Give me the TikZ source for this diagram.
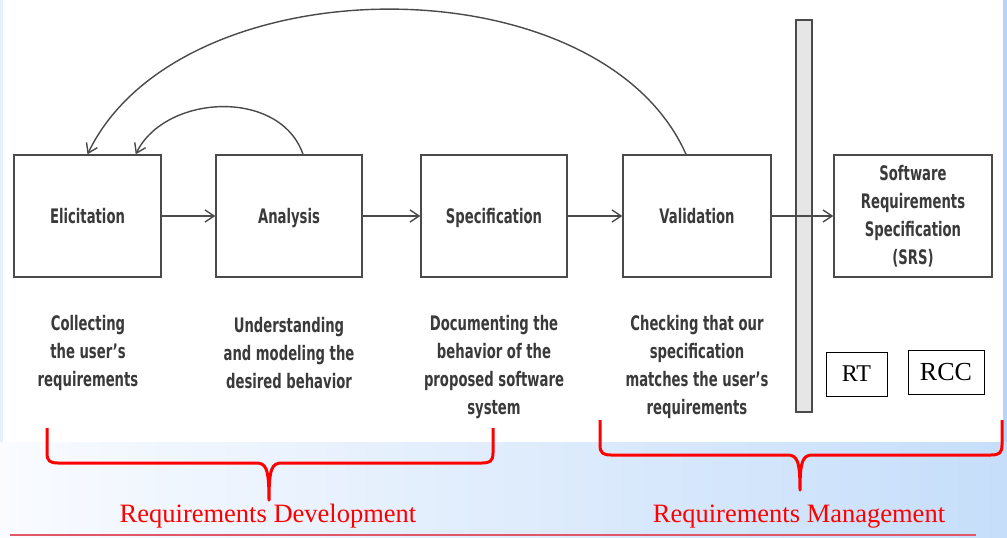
\documentclass[tikz,border=0pt]{standalone}
\usepackage{fontspec}
\setmainfont{Liberation Serif}
\newfontfamily\hand[FakeStretch=0.66]{DejaVu Sans}
\usetikzlibrary{arrows.meta}
\definecolor{ink}{HTML}{4A4A4A}
\definecolor{txt}{HTML}{3A3A3A}
\definecolor{barfill}{HTML}{E6E6E6}
\definecolor{edgeblue}{HTML}{E6F0FC}
\definecolor{rightblue}{HTML}{B4D5F8}
\definecolor{bgleft}{HTML}{F9FBFF}
\definecolor{bgright}{HTML}{C6DEFA}
\definecolor{redline}{HTML}{E05868}
\tikzset{
  procbox/.style={draw=ink, line width=1.4pt, minimum height=122pt, inner sep=0pt,
    font=\hand\bfseries\fontsize{20}{28}\selectfont, text=txt, align=center},
  oneline/.style={text height=14pt, text depth=0pt},
  lab/.style={font=\hand\bfseries\fontsize{20}{28}\selectfont, text=txt, align=center, inner sep=0pt},
  arr/.style={draw=ink, line width=1.4pt, -{Straight Barb[length=9pt,width=12pt]}},
  smallbox/.style={draw=black, line width=1pt, inner sep=0pt, minimum height=44pt, text=black},
  redlab/.style={text=red, font=\fontsize{26.5}{30}\selectfont, inner sep=0pt, anchor=base},
  brace/.style={draw=red, line width=3pt, line join=round}
}
\begin{document}
\begin{tikzpicture}[x=1pt,y=-1pt]
\useasboundingbox (0,0) rectangle (1007,538);
% background
\fill[white] (0,0) rectangle (1007,538);
\fill[edgeblue] (0,0) rectangle (3,442);
\shade[left color=bgleft, right color=bgright] (0,442) rectangle (1007,538);
\fill[rightblue] (1003,0) rectangle (1007,442);

% bar
\node[draw=ink, fill=barfill, line width=1.2pt, minimum width=16pt, minimum height=392pt, inner sep=0pt] (bar) at (804,216) {};

% process boxes
\node[procbox, oneline, minimum width=147pt] (eli) at (87.5,216) {Elicitation};
\node[procbox, oneline, minimum width=146pt] (ana) at (289,216) {Analysis};
\node[procbox, oneline, minimum width=146pt] (spec) at (494,216) {Specification};
\node[procbox, oneline, minimum width=148pt] (val) at (697,216) {Validation};
\node[procbox, minimum width=158pt] (srs) at (913,216) {Software\\Requirements\\Specification\\(SRS)};

% descriptions
\node[lab] (d1) at (88,353) {Collecting\\the user’s\\requirements};
\node[lab] (d2) at (289,353) {Understanding\\and modeling the\\desired behavior};
\node[lab] (d3) at (494,367) {Documenting the\\behavior of the\\proposed software\\system};
\node[lab] (d4) at (697,367) {Checking that our\\specification\\matches the user’s\\requirements};

% connectors
\draw[arr] (eli) -- (ana);
\draw[arr] (ana) -- (spec);
\draw[arr] (spec) -- (val);
\draw[arr] (val) -- (srs);
\draw[arr] ([xshift=-11pt]val.north) .. controls (600,-40) and (180,-38) .. (eli.north);
\draw[arr] ([xshift=14pt]ana.north) .. controls (280,88) and (165,94) .. ([xshift=-26pt]eli.north east);

% RT / RCC
\node[smallbox, minimum width=61pt, font=\fontsize{24}{24}\selectfont] (rt) at (856.5,374) {RT};
\node[smallbox, minimum width=76pt, font=\fontsize{26}{26}\selectfont] (rcc) at (946,372) {RCC};

% braces
\draw[brace] (47,428) -- (47,453) .. controls (47,461) and (50,463) .. (58,463) -- (256,463)
  .. controls (266,463) and (269,468) .. (269,500)
  .. controls (269,468) and (272,463) .. (282,463) -- (482,463)
  .. controls (490,463) and (493,461) .. (493,453) -- (493,428);
\draw[brace] (600,420) -- (600,445) .. controls (600,453) and (603,455) .. (611,455) -- (787,455)
  .. controls (797,455) and (800,460) .. (800,490)
  .. controls (800,460) and (803,455) .. (813,455) -- (991,455)
  .. controls (999,455) and (1002,453) .. (1002,445) -- (1002,420);

\node[redlab] (rd) at (268,522) {Requirements Development};
\node[redlab] (rm) at (799,522) {Requirements Management};

\draw[redline, line width=1.5pt] (10,535) -- (976,535);
\end{tikzpicture}
\end{document}
